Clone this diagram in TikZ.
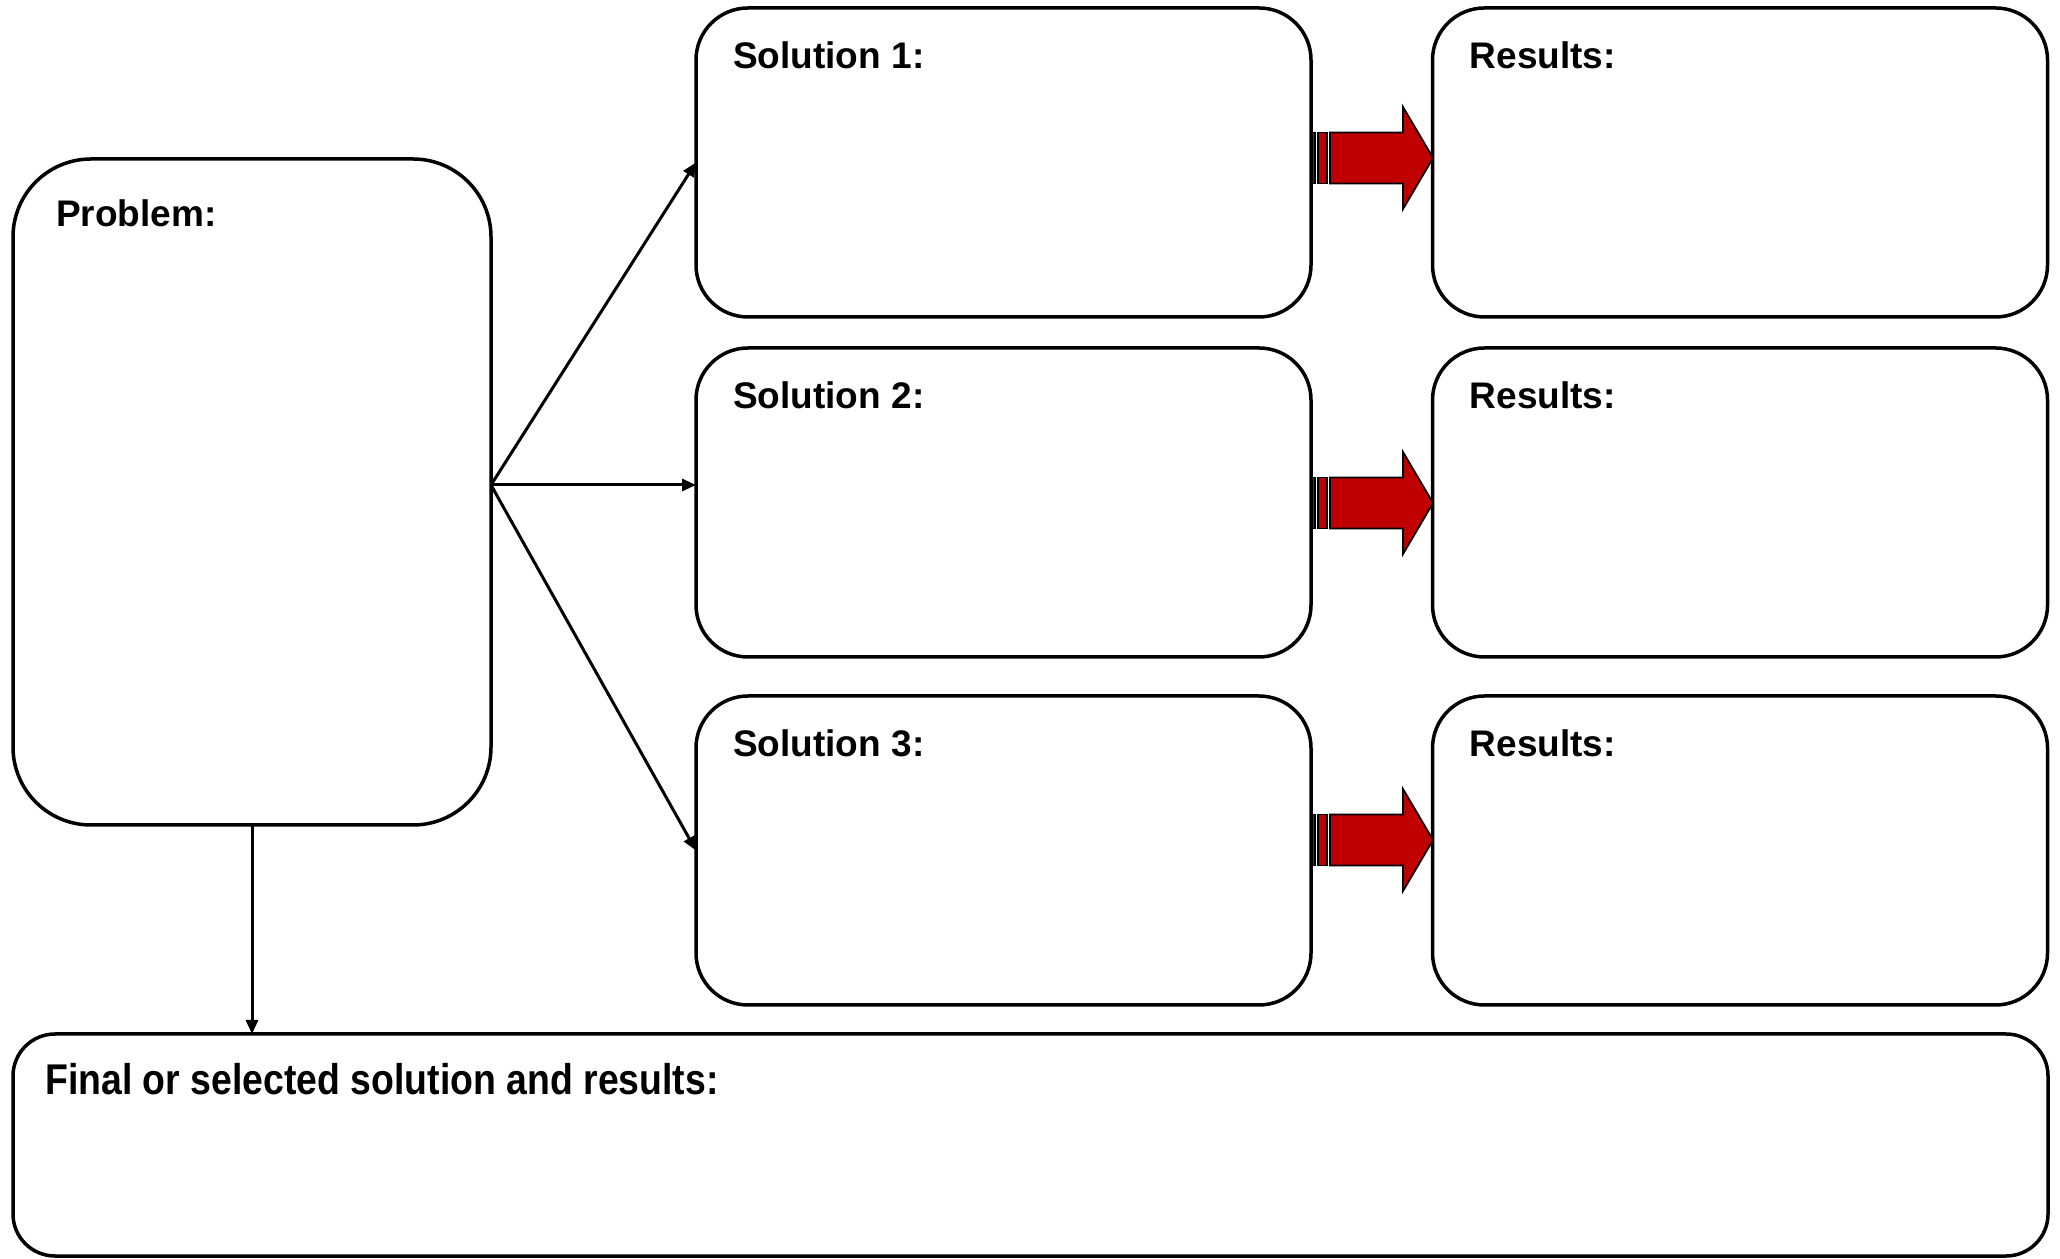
\documentclass[tikz,border=0pt]{standalone}
\usepackage{fontspec}
\setmainfont{Liberation Sans}
\usetikzlibrary{arrows.meta,calc}
\definecolor{arrowred}{HTML}{C00000}
\begin{document}
\begin{tikzpicture}[x=1pt,y=1pt,
  box/.style={draw=black,line width=3.5pt,rounded corners=52pt,inner sep=0pt,outer sep=0pt},
  smallbox/.style={box,minimum width=615pt,minimum height=309pt},
  title/.style={anchor=base west,inner sep=0pt,font=\fontsize{37}{44}\selectfont\bfseries},
  conn/.style={draw=black,line width=3pt,-{Triangle[length=14pt,width=12pt]}},
  redpart/.style={fill=arrowred,draw=black,line width=1.8pt,line join=miter}]
\useasboundingbox (0,0) rectangle (2060,1258);

% boxes (image y converted: tikz y = 1258 - image y)
\node[box,rounded corners=78pt,minimum width=478pt,minimum height=666pt] (prob) at (252,766) {};
\node[smallbox] (s1) at (1003.5,1095.5) {};
\node[smallbox] (s2) at (1003.5,755.5) {};
\node[smallbox] (s3) at (1003.5,407.5) {};
\node[smallbox] (r1) at (1740,1095.5) {};
\node[smallbox] (r2) at (1740,755.5) {};
\node[smallbox] (r3) at (1740,407.5) {};
\node[box,rounded corners=42pt,minimum width=2035pt,minimum height=222pt] (final) at (1030.5,113) {};

% titles
\node[title] (tprob) at ([xshift=43pt,yshift=-68pt]prob.north west) {Problem:};
\node[title] (ts1) at ([xshift=37pt,yshift=-61pt]s1.north west) {Solution 1:};
\node[title] (ts2) at ([xshift=37pt,yshift=-61pt]s2.north west) {Solution 2:};
\node[title] (ts3) at ([xshift=37pt,yshift=-61pt]s3.north west) {Solution 3:};
\node[title] (tr1) at ([xshift=37pt,yshift=-61pt]r1.north west) {Results:};
\node[title] (tr2) at ([xshift=37pt,yshift=-61pt]r2.north west) {Results:};
\node[title] (tr3) at ([xshift=37pt,yshift=-61pt]r3.north west) {Results:};
\node[title,font=\fontsize{43}{50}\selectfont\bfseries,xscale=0.87] (tfinal) at ([xshift=32pt,yshift=-60pt]final.north west) {Final or selected solution and results:};

% connectors
\coordinate (fork) at ([yshift=7pt]prob.east);
\draw[conn] (fork) -- (s1.west);
\draw[conn] (fork) -- (fork -| s2.west);
\draw[conn] (fork) -- (s3.west);
\draw[conn] (prob.south) -- (prob.south |- final.north);

% red block arrows
\foreach \yc in {1100,755,418}{
  \begin{scope}[shift={(1311,\yc)}]
    \draw[redpart] (1,-25.5) rectangle (4,25.5);
    \draw[redpart] (7,-25.5) rectangle (16,25.5);
    \draw[redpart] (19,-25.5) -- (92,-25.5) -- (92,-51) -- (122,0) -- (92,51) -- (92,25.5) -- (19,25.5) -- cycle;
  \end{scope}
}
\end{tikzpicture}
\end{document}
